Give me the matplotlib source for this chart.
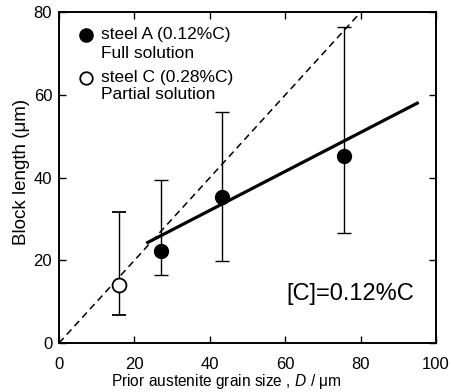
import numpy as np
import matplotlib.pyplot as plt

plt.rcParams['font.family'] = ['Liberation Sans', 'DejaVu Sans']
plt.rcParams['mathtext.fontset'] = 'custom'
plt.rcParams['mathtext.it'] = 'Liberation Sans:italic'
plt.rcParams['mathtext.rm'] = 'Liberation Sans'

# steel A (full solution)
d_A = [26.9, 43.1, 75.6]
L_A = [22.2, 35.2, 45.1]
top_A = [39.3, 55.9, 76.4]
bot_A = [16.4, 19.8, 26.7]

# steel C (partial solution)
d_C = [15.8]
L_C = [14.1]
top_C = [31.6]
bot_C = [6.7]

# fitted lines
fit_x = [23.5, 95]
fit_y = [24.3, 58]
ref_x = [0, 80]
ref_y = [0, 80]

fig = plt.figure(figsize=(4.51, 3.92), dpi=100)
ax = fig.add_axes([0.131, 0.125, 0.836, 0.844])

ax.plot(ref_x, ref_y, 'k--', lw=1.1, dashes=(4.5, 3))
ax.plot(fit_x, fit_y, 'k-', lw=2.3)

errA = [np.subtract(L_A, bot_A), np.subtract(top_A, L_A)]
errC = [np.subtract(L_C, bot_C), np.subtract(top_C, L_C)]
ax.errorbar(d_A, L_A, yerr=errA, fmt='o', color='k', ms=10, mfc='k',
            ecolor='k', elinewidth=1.0, capsize=5, capthick=1.0, zorder=3)
ax.errorbar(d_C, L_C, yerr=errC, fmt='o', color='k', ms=10, mfc='white',
            mec='k', mew=1.3, ecolor='k', elinewidth=1.0, capsize=5,
            capthick=1.0, zorder=3)

# legend drawn by hand
ax.plot([7.2], [74.5], 'o', color='k', ms=9.5)
ax.plot([7.2], [64.1], 'o', mfc='white', mec='k', mew=1.3, ms=9)
ax.text(11.2, 74.5, 'steel A (0.12%C)', fontsize=12.5, va='center')
ax.text(11.2, 70.1, 'Full solution', fontsize=12.5, va='center')
ax.text(11.2, 64.1, 'steel C (0.28%C)', fontsize=12.5, va='center')
ax.text(11.2, 60.0, 'Partial solution', fontsize=12.5, va='center')

ax.text(77.1, 11.8, '[C]=0.12%C', fontsize=17, ha='center', va='center')

ax.set_xlim(0, 100)
ax.set_ylim(0, 80)
ax.set_xticks([0, 20, 40, 60, 80, 100])
ax.set_yticks([0, 20, 40, 60, 80])
ax.tick_params(direction='in', length=5, width=1.0, top=True, right=True,
               labelsize=12)
ax.tick_params(axis='x', pad=10)
ax.tick_params(axis='y', pad=5)
for s in ax.spines.values():
    s.set_linewidth(1.4)

ax.set_xlabel('Prior austenite grain size , $D$ / μm', fontsize=11.2)
ax.xaxis.set_label_coords(0.443, -0.088)
ax.set_ylabel('Block length (μm)', fontsize=13.5)
ax.yaxis.set_label_coords(-0.078, 0.517)

fig.savefig('out.png', dpi=100)
